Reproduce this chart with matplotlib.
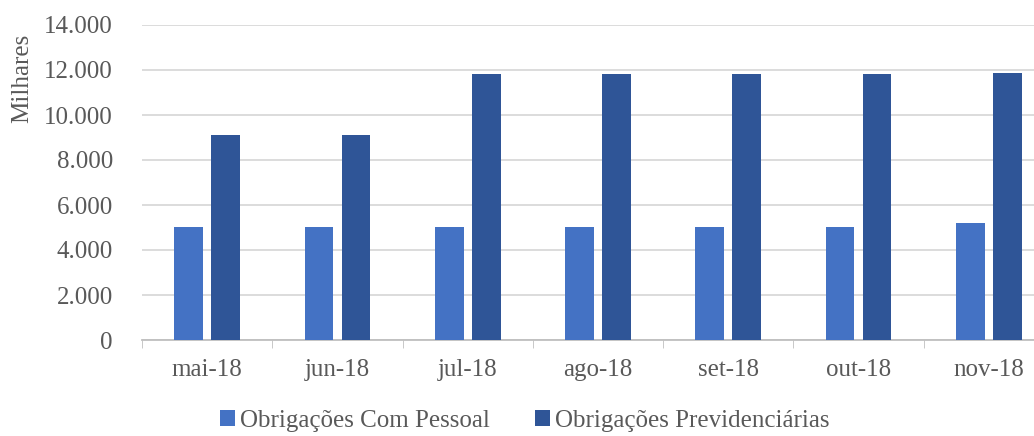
import matplotlib
matplotlib.use("Agg")
import matplotlib.pyplot as plt
import numpy as np
from matplotlib.ticker import FuncFormatter

meses = ["mai-18", "jun-18", "jul-18", "ago-18", "set-18", "out-18", "nov-18"]
pessoal = [5030, 5030, 5030, 5040, 5040, 5040, 5190]
previd = [9110, 9120, 11800, 11830, 11830, 11830, 11850]

cor_pessoal = "#4472C4"
cor_previd = "#2F5597"
cinza = "#595959"

plt.rcParams["font.family"] = ["Liberation Serif", "DejaVu Serif"]

fig = plt.figure(figsize=(10.34, 4.36), dpi=100)
ax = fig.add_axes([142/1034, 96/436, 912/1034, 315/436])

x = np.arange(len(meses))
w = 0.22
ax.bar(x - 0.142, pessoal, w, color=cor_pessoal, label="Obrigações Com Pessoal", zorder=3)
ax.bar(x + 0.142, previd, w, color=cor_previd, label="Obrigações Previdenciárias", zorder=3)

ax.set_xlim(-0.5, len(meses) - 0.5)
ax.set_ylim(0, 14000)
ax.set_yticks(range(0, 14001, 2000))
ax.yaxis.set_major_formatter(FuncFormatter(lambda v, p: f"{int(v):,}".replace(",", ".")))
ax.grid(axis="y", color="#d9d9d9", linewidth=1.3, zorder=0)

# marcas entre categorias
ax.set_xticks(x)
ax.set_xticklabels(meses)
ax.set_xticks(np.arange(-0.5, len(meses), 1), minor=True)
ax.tick_params(axis="x", which="major", length=0, pad=14, labelsize=18, labelcolor=cinza)
ax.tick_params(axis="x", which="minor", length=6, color="#bfbfbf")
ax.tick_params(axis="y", length=0, pad=21, labelsize=18, labelcolor=cinza)

for s in ["top", "right", "left"]:
    ax.spines[s].set_visible(False)
ax.spines["bottom"].set_color("#bfbfbf")
ax.spines["bottom"].set_linewidth(1.3)

fig.text(22/1034, 1 - 78/436, "Milhares", rotation=90, ha="center", va="center",
         fontsize=18, color=cinza)

fig.legend(loc="center", bbox_to_anchor=(525/1034, 1 - 421/436), ncol=2, frameon=False,
           fontsize=18, labelcolor=cinza, handlelength=0.6, handleheight=0.6,
           handletextpad=0.2, columnspacing=1.8)

fig.savefig("out.png", dpi=100)
